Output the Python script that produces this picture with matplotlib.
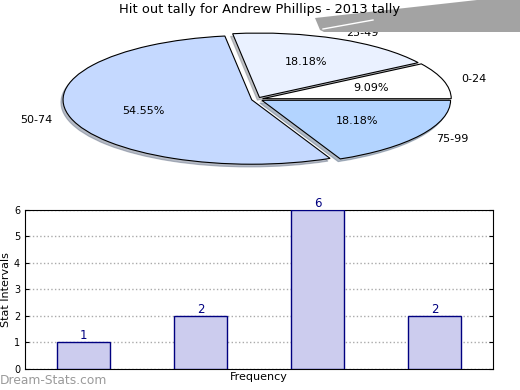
import matplotlib.pyplot as plt
from matplotlib.patches import Polygon

# chart data
intervals = ['0-24', '25-49', '50-74', '75-99']
counts = [1, 2, 6, 2]
pie_colors = ['#ffffff', '#eaf1ff', '#c5d9ff', '#b3d4ff']
explode = [0.03, 0.03, 0.03, 0.03]

fig = plt.figure(figsize=(5.2, 3.9), dpi=100)

# pie on top, squashed into an ellipse like the original
ax1 = fig.add_axes([0.041, 0.539, 0.907, 0.413])
wedges, texts, autotexts = ax1.pie(counts, labels=intervals, colors=pie_colors,
                                   explode=explode, autopct='%1.2f%%',
                                   shadow={'ox': -0.008, 'oy': -0.03, 'shade': 0.45},
                                   startangle=0, labeldistance=1.1, pctdistance=0.6,
                                   wedgeprops={'edgecolor': 'black', 'linewidth': 0.8},
                                   textprops={'fontsize': 8})
ax1.set_aspect('auto')
ax1.set_xlim(-1.25, 1.25)
ax1.set_ylim(-1.25, 1.25)
fig.text(0.5, 0.975, 'Hit out tally for Andrew Phillips - 2013 tally',
         ha='center', va='center', fontsize=9.4)

# stray grey shadow in the top right corner of the original
W, H = 520, 390
pts = [(315, 18), (477, 0), (520, 0), (520, 32), (324, 32), (320, 30)]
fig.patches.append(Polygon([(x / W, 1 - y / H) for x, y in pts], closed=True,
                           transform=fig.transFigure, facecolor='#a3a3a3',
                           edgecolor='none', zorder=0))
fig.lines.append(plt.Line2D([323 / W, 373 / W], [1 - 29 / H, 1 - 20 / H],
                            transform=fig.transFigure, color='white', lw=1))

# bar chart below
ax2 = fig.add_axes([0.048, 0.054, 0.9, 0.408])
xpos = list(range(len(counts)))
bars = ax2.bar(xpos, counts, width=0.45, color='#ccccee', edgecolor='#000080',
               linewidth=1, zorder=3)
for x, c in zip(xpos, counts):
    ax2.text(x, c, str(c), ha='center', va='bottom', color='#000080', fontsize=8.5,
             zorder=4)
ax2.set_xlim(-0.5, 3.5)
ax2.set_ylim(0, 6)
ax2.set_xticks([])
ax2.set_yticks(range(7))
ax2.tick_params(axis='y', direction='in', labelsize=7, length=3, right=True)
ax2.yaxis.grid(True, linestyle=':', color='#aaaaaa', linewidth=1)
ax2.set_xlabel('Frequency', fontsize=8, labelpad=2)
ax2.set_ylabel('Stat Intervals', fontsize=8, labelpad=2)

fig.text(0.0, 0.025, 'Dream-Stats.com', color='#9a9a9a', fontsize=8.8,
         ha='left', va='center')

fig.savefig('out.png', dpi=100)
